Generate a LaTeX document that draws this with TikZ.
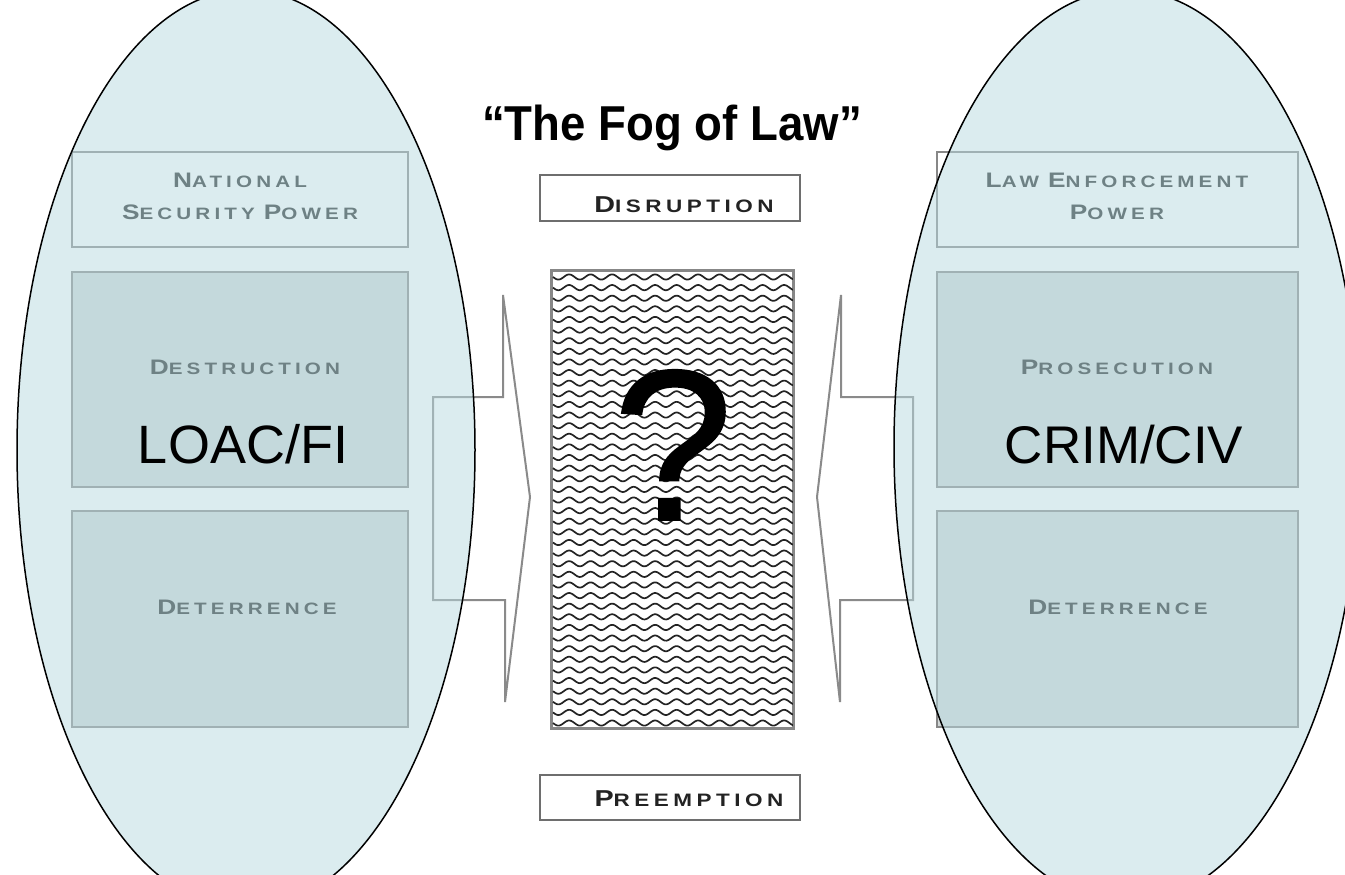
\documentclass[tikz,border=0pt]{standalone}
\usepackage{fontspec}
\setmainfont{Liberation Sans}
\newfontfamily\capsfont[FakeStretch=1.25,LetterSpace=25]{Liberation Sans}
\newfontfamily\titlefont[FakeStretch=0.93]{Liberation Sans}
\newfontfamily\qfont[FakeBold=0.9]{Liberation Sans}
\usetikzlibrary{shapes.geometric}

\definecolor{fogfill}{RGB}{185,219,225}
\definecolor{boxgray}{RGB}{209,215,215}
\definecolor{boxline}{RGB}{135,135,135}
\definecolor{boxtext}{RGB}{35,40,40}
\definecolor{arrowgray}{RGB}{138,138,138}
\definecolor{midline}{RGB}{110,110,110}
\definecolor{midtext}{RGB}{35,35,35}
\definecolor{wavecol}{RGB}{35,35,35}

% small-caps style word: large initial, smaller remainder
\newcommand\capword[2]{{\fontsize{\capbig}{\capbig}\selectfont #1}{\fontsize{\capsmall}{\capsmall}\selectfont #2}}
\newcommand\capgap{\hspace{9pt}}

\begin{document}
\begin{tikzpicture}[x=1pt,y=-1pt,
  sidebox/.style={rectangle,draw=boxline,line width=2pt,inner sep=0pt},
  topbox/.style={sidebox,fill=white},
  lowbox/.style={sidebox,fill=boxgray},
  sidelabel/.style={anchor=base,text=boxtext,inner sep=0pt,
    font={\capsfont\bfseries\def\capbig{21}\def\capsmall{16.5}}},
  midbox/.style={rectangle,draw=midline,line width=2pt,fill=white,inner sep=0pt,
    minimum width=260pt,minimum height=46pt},
  midlabel/.style={anchor=base,text=midtext,inner sep=0pt,
    font={\capsfont\bfseries\def\capbig{23}\def\capsmall{18}}},
  bracket/.style={draw=arrowgray,line width=2pt,line join=miter},
  wave/.style={draw=wavecol,line width=1.7pt},
  fog/.style={draw=black,line width=1.5pt,fill=fogfill,fill opacity=0.5},
  biglabel/.style={anchor=base,inner sep=0pt,font=\fontsize{54}{54}\selectfont}
]
\useasboundingbox (0,0) rectangle (1345,875);
\fill[white] (0,0) rectangle (1345,875);

% bracket arrows pointing towards the centre
\draw[bracket] (503,295) -- (503,397) -- (433,397) -- (433,600) -- (505,600)
  -- (505,702) -- (530,497) -- cycle;
\draw[bracket] (841,295) -- (841,397) -- (913,397) -- (913,600) -- (840,600)
  -- (840,702) -- (817,497) -- cycle;

% national security column
\node[topbox,minimum width=336pt,minimum height=95pt] (nsp) at (240,199.5) {};
\node[lowbox,minimum width=336pt,minimum height=215pt] (destr) at (240,379.5) {};
\node[lowbox,minimum width=336pt,minimum height=216pt] (deterL) at (240,619) {};
\node[sidelabel] (nspA) at (240,187) {\capword{N}{ATIONAL}};
\node[sidelabel] (nspB) at (240,219) {\capword{S}{ECURITY}\capgap\capword{P}{OWER}};
\node[sidelabel] (destrT) at (245,374) {\capword{D}{ESTRUCTION}};
\node[sidelabel] (deterLT) at (247,614) {\capword{D}{ETERRENCE}};

% law enforcement column
\node[topbox,minimum width=361pt,minimum height=95pt] (lep) at (1117.5,199.5) {};
\node[lowbox,minimum width=361pt,minimum height=215pt] (prosec) at (1117.5,379.5) {};
\node[lowbox,minimum width=361pt,minimum height=216pt] (deterR) at (1117.5,619) {};
\node[sidelabel] (lepA) at (1117,187) {\capword{L}{AW}\capgap\capword{E}{NFORCEMENT}};
\node[sidelabel] (lepB) at (1117,219) {\capword{P}{OWER}};
\node[sidelabel] (prosecT) at (1117,374) {\capword{P}{ROSECUTION}};
\node[sidelabel] (deterRT) at (1118,614) {\capword{D}{ETERRENCE}};

% centre column
\node[midbox] (disr) at (670,198) {};
\node[midlabel] (disrT) at (684,212) {\capword{D}{ISRUPTION}};
\node[midbox,minimum height=45pt] (preem) at (670,797.5) {};
\node[midlabel] (preemT) at (689,806) {\capword{P}{REEMPTION}};

\node[rectangle,draw=boxline,line width=2pt,fill=white,inner sep=0pt,
  minimum width=241pt,minimum height=457pt] (haze) at (672.5,499.5) {};
\begin{scope}
  \clip (haze.south west) rectangle (haze.north east);
  \foreach \i in {0,...,42} {
    \draw[wave] plot[domain=553:793,samples=200]
      (\x,{277+\i*10.62+2.6*sin((\x-553)/21.5*360)});
  }
\end{scope}
\draw[boxline,line width=2pt] (haze.south west) rectangle (haze.north east);

% translucent regimes
\draw[fog] (246,450) ellipse [x radius=229, y radius=460];
\draw[fog] (1127,447) ellipse [x radius=233, y radius=457];

% labels on top
\node[biglabel] (loac) at (243,463) {LOAC/FI};
\node[biglabel,font=\fontsize{53}{53}\selectfont] (crim) at (1124,463) {CRIM/CIV};
\node[anchor=base,inner sep=0pt,font=\titlefont\bfseries\fontsize{49}{49}\selectfont] (title)
  at (672,140) {“The Fog of Law”};
\node[anchor=base,inner sep=0pt,font=\qfont\fontsize{215}{215}\selectfont] (qmark)
  at (673,520) {?};
\end{tikzpicture}
\end{document}
